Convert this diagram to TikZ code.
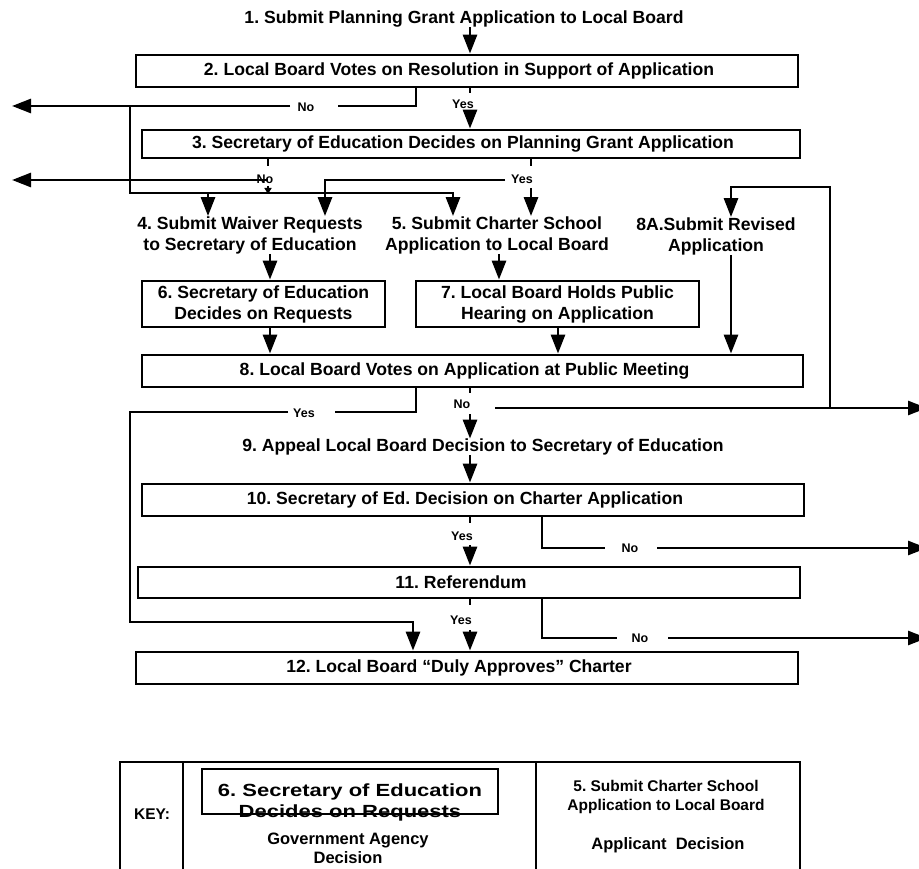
\documentclass[tikz,border=0pt]{standalone}
\usepackage{fontspec}
\usepackage{graphicx}
\setmainfont{Liberation Sans}
\usetikzlibrary{arrows.meta}
\newcommand\bigf{\fontsize{17.6}{21}\selectfont\bfseries\frenchspacing}
\newcommand\smallf{\fontsize{12.5}{14}\selectfont\bfseries}
\newcommand\keyf{\fontsize{16.5}{19}\selectfont\bfseries\frenchspacing}
\newcommand\keyrf{\fontsize{15.5}{18.5}\selectfont\bfseries\frenchspacing}
\newcommand\wide[1]{\scalebox{1.25}[1]{#1}}
\begin{document}
\begin{tikzpicture}[x=1pt,y=-1pt,
  box/.style={draw, line width=2.8pt, font=\bigf, align=center, inner sep=0pt},
  sbox/.style={draw, line width=2.8pt, font=\bigf, inner sep=0pt,
    execute at begin node={\hspace*{-16pt}}},
  txt/.style={font=\bigf, align=center, inner sep=0pt},
  keytxt/.style={font=\keyf, align=center, inner sep=0pt},
  keyrtxt/.style={font=\keyrf, align=center, inner sep=0pt},
  lbl/.style={font=\smallf, inner sep=0pt},
  ln/.style={line width=2.8pt},
  arr/.style={line width=2.8pt, -{Triangle[width=14pt,length=19pt]}},
  tinyarr/.style={line width=2pt, -{Triangle[width=7pt,length=6pt]}},
  keyline/.style={line width=2.6pt}]
\path[use as bounding box] (0,0) rectangle (919,869);
\clip (0,0) rectangle (919,869);

% ---------- nodes ----------
\node[txt] (t1) at (464,19) {1. Submit Planning Grant Application to Local Board};
\node[sbox, minimum width=662, minimum height=32] (b2) at (467,71) {2. Local Board Votes on Resolution in Support of Application};
\node[sbox, minimum width=658, minimum height=28] (b3) at (471,144) {3. Secretary of Education Decides on Planning Grant Application};
\node[txt] (t4) at (250,235) {4. Submit Waiver Requests\\to Secretary of Education};
\node[txt] (t5) at (497,235) {5. Submit Charter School\\Application to Local Board};
\node[txt] (t8a) at (716,236) {8A.Submit Revised\\Application};
\node[box, minimum width=243, minimum height=46] (b6) at (263.5,304) {6. Secretary of Education\\Decides on Requests};
\node[box, minimum width=283, minimum height=46] (b7) at (557.5,304) {7. Local Board Holds Public\\Hearing on Application};
\node[sbox, minimum width=661, minimum height=32] (b8) at (472.5,371) {8. Local Board Votes on Application at Public Meeting};
\node[txt] (t9) at (483,447) {9. Appeal Local Board Decision to Secretary of Education};
\node[sbox, minimum width=662, minimum height=32] (b10) at (473,500) {10. Secretary of Ed. Decision on Charter Application};
\node[sbox, minimum width=662, minimum height=31] (b11) at (469,582.5) {11. Referendum};
\node[sbox, minimum width=662, minimum height=32] (b12) at (467,668) {12. Local Board “Duly Approves” Charter};

% ---------- x guides ----------
\coordinate (xA) at (470,0);
\coordinate (xB) at (416,0);
\coordinate (xD) at (268,0);
\coordinate (xE) at (531,0);
\coordinate (xF) at (325,0);
\coordinate (xG) at (208,0);
\coordinate (xH) at (453,0);
\coordinate (xI) at (270,0);
\coordinate (xJ) at (499,0);
\coordinate (xK) at (558,0);
\coordinate (xL) at (731,0);
\coordinate (xO) at (542,0);
\coordinate (xP) at (413,0);

% ---------- labels ----------
\node[lbl] (n2) at (306,107) {No};
\node[lbl] (y2) at (463,104) {Yes};
\node[lbl] (n3) at (265,179) {No};
\node[lbl] (y3) at (522,179) {Yes};
\node[lbl] (y8) at (304,413) {Yes};
\node[lbl] (n8) at (462,404) {No};
\node[lbl] (y10) at (462,536) {Yes};
\node[lbl] (n10) at (630,548) {No};
\node[lbl] (y11) at (461,620) {Yes};
\node[lbl] (n11) at (640,638) {No};

% ---------- free ends ----------
\coordinate (g2r) at (338,106);
\coordinate (g2l) at (290,106);
\coordinate (out2) at (12,106);
\coordinate (j2) at (130,106);
\coordinate (jB) at (453,193);
\coordinate (s3n) at (268,180);
\coordinate (out3) at (12,180);
\coordinate (tn3a) at (268,186);
\coordinate (tn3b) at (268,194);
\coordinate (s3y) at (531,188);
\coordinate (h3y) at (505,180);
\coordinate (rl) at (830,408);
\coordinate (rt) at (731,187);
\coordinate (g8r) at (335,412);
\coordinate (g8l) at (288,412);
\coordinate (lb) at (130,622);
\coordinate (s8n) at (470,414);
\coordinate (h8n) at (495,408);
\coordinate (out8) at (927,408);
\coordinate (s10y) at (470,545);
\coordinate (g10l) at (605,548);
\coordinate (g10r) at (657,548);
\coordinate (out10) at (927,548);
\coordinate (s11y) at (470,630);
\coordinate (g11l) at (617,638);
\coordinate (g11r) at (668,638);
\coordinate (out11) at (927,638);

% ---------- connectors ----------
\draw[arr] (t1.south -| xA) -- (b2.north -| xA);
% box 2
\draw[ln] (b2.south -| xA) -- ++(0,5);
\draw[arr] (y2.south -| xA) ++(0,5) -- (b3.north -| xA);
\draw[ln] (b2.south -| xB) |- (g2r);
\draw[arr] (g2l) -- (out2);
\draw[arr] (j2) |- (jB) -- (t5.north -| xH);
\draw[arr] (t4.north -| xG) ++(0,-24) -- (t4.north -| xG);
% box 3
\draw[ln] (b3.south -| xD) -- ++(0,7);
\draw[arr] (s3n) -- (out3);
\draw[tinyarr] (tn3a) -- (tn3b);
\draw[ln] (b3.south -| xE) -- ++(0,7);
\draw[arr] (s3y) -- (t5.north -| xE);
\draw[arr] (h3y) -| (t4.north -| xF);
% right loop to 8A
\draw[arr] (rl) |- (rt) -- (t8a.north -| xL);
% into box 6,7,8
\draw[arr] (t4.south -| xI) -- (b6.north -| xI);
\draw[arr] (b6.south -| xI) -- (b8.north -| xI);
\draw[arr] (t5.south -| xJ) -- (b7.north -| xJ);
\draw[arr] (b7.south -| xK) -- (b8.north -| xK);
\draw[arr] (t8a.south -| xL) -- (b8.north -| xL);
% box 8
\draw[ln] (b8.south -| xB) |- (g8r);
\draw[arr] (g8l) -| (lb) -| (b12.north -| xP);
\draw[ln] (b8.south -| xA) -- ++(0,5);
\draw[arr] (s8n) -- (t9.north -| xA);
\draw[arr] (h8n) -- (out8);
\draw[arr] (t9.south -| xA) -- (b10.north -| xA);
% box 10
\draw[ln] (b10.south -| xA) -- ++(0,6);
\draw[arr] (s10y) -- (b11.north -| xA);
\draw[ln] (b10.south -| xO) |- (g10l);
\draw[arr] (g10r) -- (out10);
% box 11
\draw[ln] (b11.south -| xA) -- ++(0,6);
\draw[arr] (s11y) -- (b12.north -| xA);
\draw[ln] (b11.south -| xO) |- (g11l);
\draw[arr] (g11r) -- (out11);

% ---------- key ----------
\draw[keyline] (120,880) -- (120,762) -- (800,762) -- (800,880);
\draw[keyline] (183,762) -- (183,880);
\draw[keyline] (536,762) -- (536,880);
\node[keyrtxt] (kk) at (152,814) {KEY:};
\node[txt] (k6) at (350,802) {\wide{6. Secretary of Education}\\\wide{Decides on Requests}};
\node[draw, line width=2.6pt, minimum width=296, minimum height=45, inner sep=0pt] (kb) at (350,791.5) {};
\node[keytxt] (kg) at (348,848) {Government Agency\\Decision};
\node[keyrtxt] (k5) at (666,797) {5. Submit Charter School\\Application to Local Board};
\node[keytxt] (ka) at (668,845) {Applicant~~Decision};
\end{tikzpicture}
\end{document}
